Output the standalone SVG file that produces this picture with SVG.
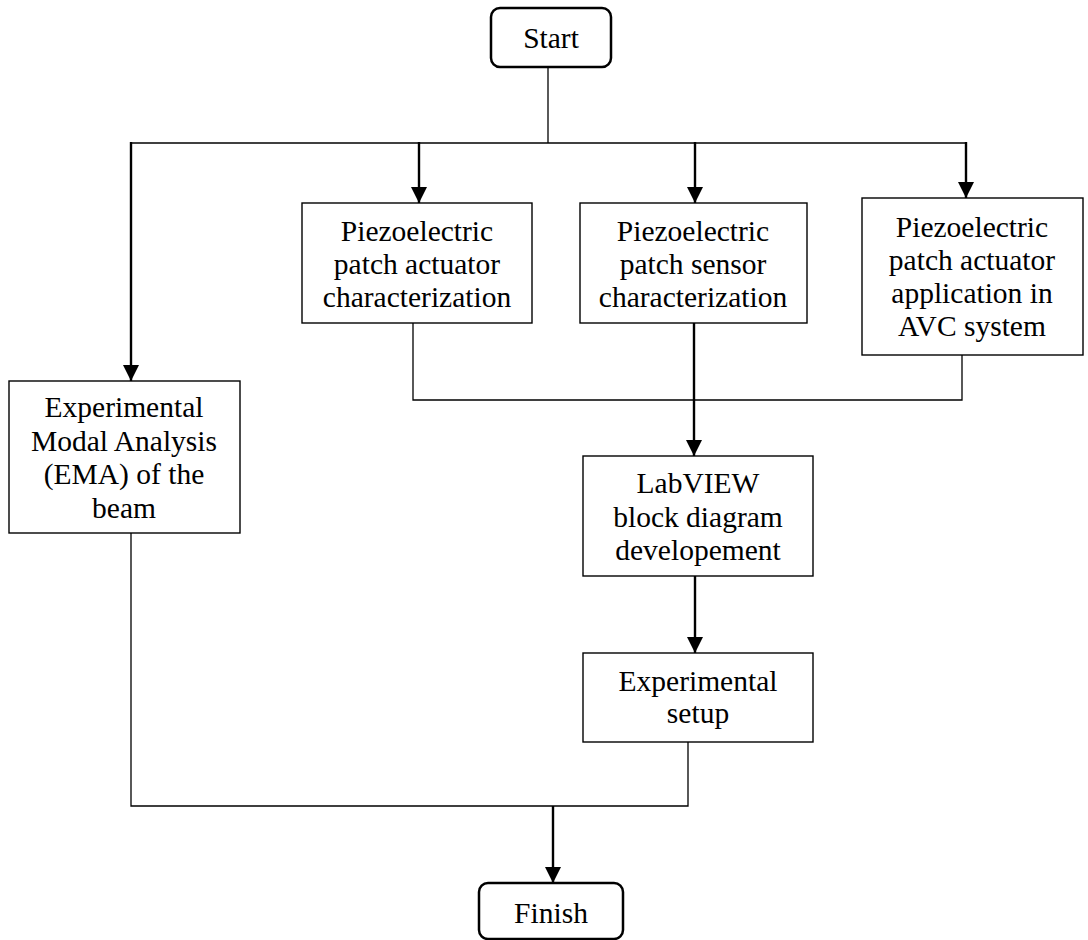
<svg xmlns="http://www.w3.org/2000/svg" width="1088" height="940" viewBox="0 0 1088 940">
<style>
.box{fill:#fff;stroke:#000;stroke-width:1.4}
.term{fill:#fff;stroke:#000;stroke-width:2.5}
.t{font-family:"Liberation Serif","Times New Roman",serif;font-size:29.5px;fill:#000;text-anchor:middle}
.ln{fill:none;stroke:#000;stroke-width:1.3}
.ar{fill:none;stroke:#000;stroke-width:2.4;marker-end:url(#ah)}
</style>
<defs>
<marker id="ah" markerUnits="userSpaceOnUse" markerWidth="17" markerHeight="17" viewBox="0 0 17 17" refX="16" refY="8.5" orient="auto">
<path d="M0,0.5 L16,8.5 L0,16.5 Z" fill="#000"/>
</marker>
</defs>
<rect width="1088" height="940" fill="#fff"/>
<g id="connectors">
<line class="ln" x1="548" y1="67" x2="548" y2="143"/>
<line class="ln" x1="131" y1="143" x2="966" y2="143"/>
<line class="ar" x1="131" y1="142" x2="131" y2="381"/>
<line class="ar" x1="419" y1="142" x2="419" y2="203"/>
<line class="ar" x1="695" y1="142" x2="695" y2="203"/>
<line class="ar" x1="966" y1="142" x2="966" y2="198"/>
<polyline class="ln" points="413,323 413,400 962,400 962,355"/>
<line class="ar" x1="694" y1="323" x2="694" y2="456"/>
<line class="ar" x1="695" y1="576" x2="695" y2="653"/>
<polyline class="ln" points="131,533 131,806 688,806 688,742"/>
<line class="ar" x1="553" y1="806" x2="553" y2="883"/>
</g>
<g id="start">
<rect class="term" x="491" y="8" width="120" height="59" rx="9"/>
<text class="t" x="551" y="48">Start</text>
</g>
<g id="actuator">
<rect class="box" x="302" y="203" width="230" height="120"/>
<text class="t" x="417" y="241"><tspan x="417">Piezoelectric</tspan><tspan x="417" dy="33">patch actuator</tspan><tspan x="417" dy="33">characterization</tspan></text>
</g>
<g id="sensor">
<rect class="box" x="580" y="203" width="227" height="120"/>
<text class="t" x="693" y="241"><tspan x="693">Piezoelectric</tspan><tspan x="693" dy="33">patch sensor</tspan><tspan x="693" dy="33">characterization</tspan></text>
</g>
<g id="avc">
<rect class="box" x="862" y="198" width="221" height="157"/>
<text class="t" x="972" y="237"><tspan x="972">Piezoelectric</tspan><tspan x="972" dy="33">patch actuator</tspan><tspan x="972" dy="33">application in</tspan><tspan x="972" dy="33">AVC system</tspan></text>
</g>
<g id="ema">
<rect class="box" x="9" y="381" width="231" height="152"/>
<text class="t" x="124" y="417"><tspan x="124">Experimental</tspan><tspan x="124" dy="33.5">Modal Analysis</tspan><tspan x="124" dy="33.5">(EMA) of the</tspan><tspan x="124" dy="33.5">beam</tspan></text>
</g>
<g id="labview">
<rect class="box" x="583" y="456" width="230" height="120"/>
<text class="t" x="698" y="493"><tspan x="698">LabVIEW</tspan><tspan x="698" dy="33.5">block diagram</tspan><tspan x="698" dy="33.5">developement</tspan></text>
</g>
<g id="setup">
<rect class="box" x="583" y="653" width="230" height="89"/>
<text class="t" x="698" y="691"><tspan x="698">Experimental</tspan><tspan x="698" dy="32">setup</tspan></text>
</g>
<g id="finish">
<rect class="term" x="479" y="883" width="144" height="56" rx="9"/>
<text class="t" x="551" y="923">Finish</text>
</g>
</svg>
